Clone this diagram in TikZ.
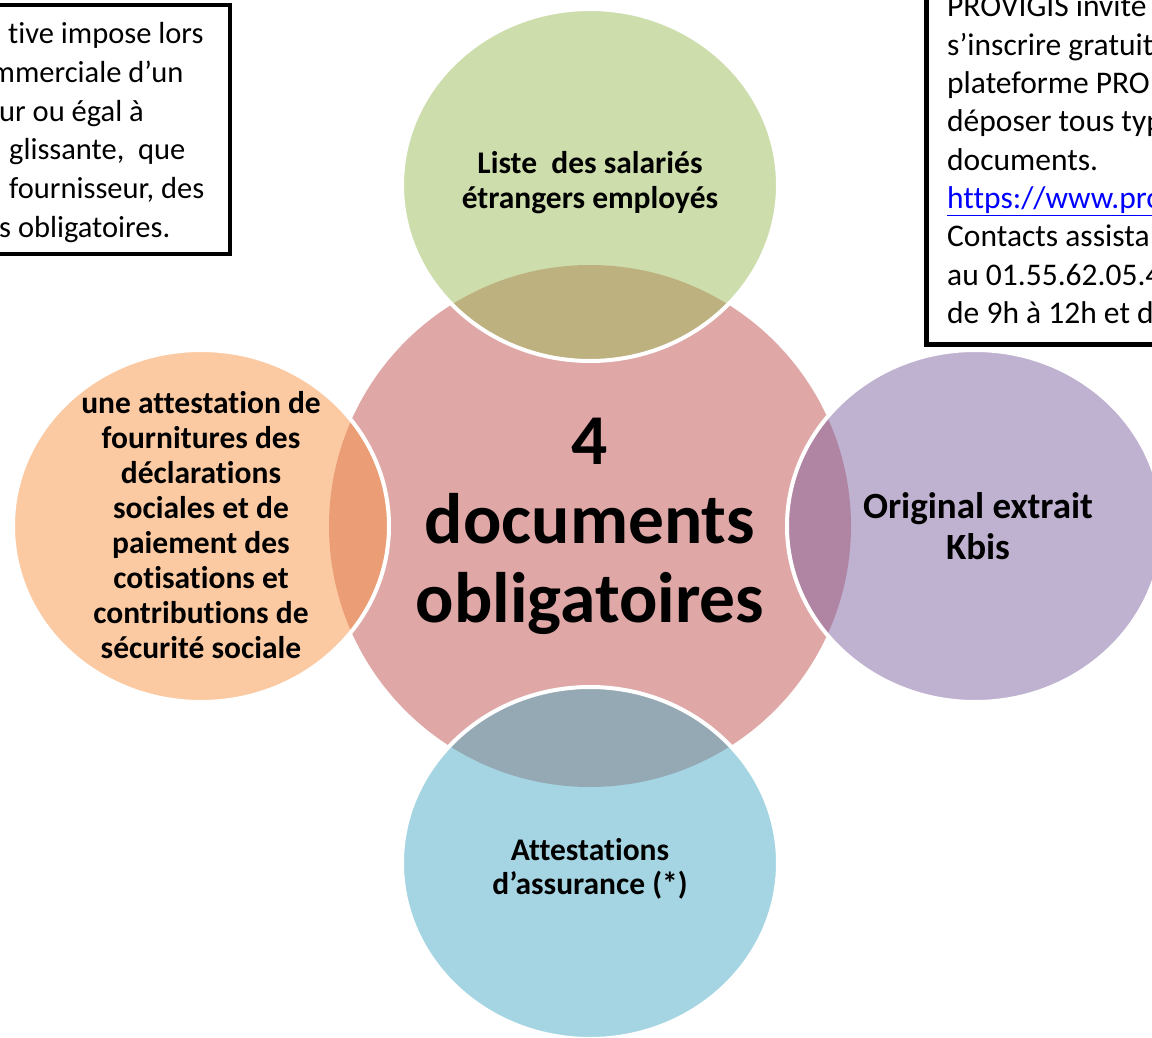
\documentclass[tikz,border=0pt]{standalone}
\usepackage{fontspec}
\setmainfont{Carlito}[Ligatures=NoCommon]
\usetikzlibrary{shapes.geometric}

\definecolor{redA}{HTML}{C0504D}
\definecolor{greenA}{HTML}{9BBB59}
\definecolor{orangeA}{HTML}{F79646}
\definecolor{purpleA}{HTML}{8064A2}
\definecolor{aquaA}{HTML}{4BACC6}
\definecolor{linkA}{HTML}{0000FF}

\begin{document}
\begin{tikzpicture}[x=1pt,y=-1pt,
	doc/.style={draw=white,line width=4pt,shape=ellipse,minimum width=376pt,minimum height=352pt,inner sep=0pt,fill opacity=0.5},
	docname/.style={inner sep=0pt,align=center,font=\bfseries\fontsize{31.5}{35}\selectfont},
	note/.style={anchor=base west,inner sep=0pt,font=\fontsize{30.5}{36}\selectfont}]
	\useasboundingbox (0,0) rectangle (1152,1038);
	\clip (0,0) rectangle (1152,1038);

	% centre
	\draw (590,526) node (docs) [shape=circle,minimum size=522pt,inner sep=0pt,fill=redA,fill opacity=0.5,text opacity=1,align=center,font=\bfseries\fontsize{71.5}{79}\selectfont] {4\\documents\\obligatoires};

	% the four documents
	\draw (590,185) node (liste) [doc,fill=greenA] {};
	\draw (201,526) node (urssaf) [doc,fill=orangeA] {};
	\draw (975,526) node (kbis) [doc,fill=purpleA] {};
	\draw (590,863) node (assur) [doc,fill=aquaA] {};

	\draw (590,183) node (listeT) [docname] {Liste~ des salariés\\étrangers employés};
	\draw (201,525) node (urssafT) [docname] {une attestation de\\fournitures des\\déclarations\\sociales et de\\paiement des\\cotisations et\\contributions de\\sécurité sociale};
	\draw (978,526) node (kbisT) [docname,font=\bfseries\fontsize{37}{41}\selectfont] {Original extrait\\Kbis};
	\draw (590,869) node (assurT) [docname,font=\bfseries\fontsize{31.5}{34}\selectfont] {Attestations\\d’assurance (*)};

	% left note
	\draw[line width=4pt,fill=white] (-20,5) rectangle (230,254);
	\draw (8,44) node (l1) [note] {tive impose lors};
	\draw (-9.5,83) node (l2) [note] {mmerciale d’un};
	\draw (-1,122) node (l3) [note] {ur ou égal à};
	\draw (9,160) node (l4) [note] {glissante,~ que};
	\draw (9,199) node (l5) [note] {fournisseur, des};
	\draw (-1,237) node (l6) [note] {s obligatoires.};

	% right note
	\draw[line width=5pt,fill=white] (926.5,-20) rectangle (1200,344);
	\begin{scope}[note/.append style={font=\fontsize{31.5}{36}\selectfont}]
	\draw (947,17) node (r1) [note] {PROVIGIS invite};
	\draw (947,55.3) node (r2) [note] {s’inscrire gratuit};
	\draw (947,93.6) node (r3) [note] {plateforme PRO};
	\draw (947,131.9) node (r4) [note] {déposer tous typ};
	\draw (947,170.2) node (r5) [note] {documents.};
	\draw (947,208.5) node (r6) [note,text=linkA] {\underline{https://www.pro}};
	\draw (947,246.8) node (r7) [note] {Contacts assista};
	\draw (947,285.1) node (r8) [note] {au 01.55.62.05.4};
	\draw (947,323.4) node (r9) [note] {de 9h à 12h et d};
	\end{scope}
\end{tikzpicture}
\end{document}
